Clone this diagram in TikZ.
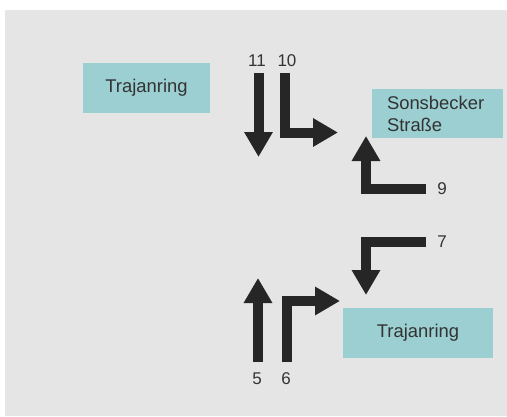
\documentclass[tikz,border=0pt]{standalone}
\usepackage{fontspec}
\setmainfont{Liberation Sans}
\usetikzlibrary{arrows.meta}
\definecolor{bggray}{HTML}{E5E5E5}
\definecolor{streetteal}{HTML}{9BCFD1}
\definecolor{lanegray}{HTML}{262626}
\definecolor{textgray}{HTML}{333333}

\begin{document}
\begin{tikzpicture}[
    x=1pt, y=-1pt,
    street/.style={rectangle, fill=streetteal, minimum height=50pt, inner sep=0pt, font=\fontsize{18.4}{22}\selectfont, text=textgray},
    lane/.style={draw=lanegray, line width=10pt, line cap=butt, line join=miter, -{Triangle[length=25pt, width=27pt]}},
    lanenum/.style={font=\fontsize{17}{20}\selectfont, text=textgray, inner sep=0pt}
]
    % Background
    \useasboundingbox (0,0) rectangle (507,416);
    \fill[bggray] (5,10) rectangle (507,416);

    % Street Nodes
    \node[street, minimum width=127pt] (trajanN) at (146.5,88) {Trajanring};
    \node[street, minimum width=131pt, minimum height=49pt, text width=101pt, inner xsep=15pt, align=left] (sonsbecker) at (437.5,113.5) {Sonsbecker\\Straße};
    \node[street, minimum width=150pt] (trajanS) at (418,333) {Trajanring};

    % Lane Coordinates
    \coordinate (a11) at (258.5,73);  \coordinate (b11) at (258.5,157);
    \coordinate (a10) at (285,73);    \coordinate (b10) at (338,132.5);
    \coordinate (a9)  at (426,188.5); \coordinate (b9)  at (366,136);
    \coordinate (a7)  at (426,242);   \coordinate (b7)  at (366,295);
    \coordinate (a5)  at (258,362);   \coordinate (b5)  at (258,278);
    \coordinate (a6)  at (287,362);   \coordinate (b6)  at (340,301);

    % Lane Arrows
    \draw[lane] (a11) -- (b11);
    \draw[lane] (a10) |- (b10);
    \draw[lane] (a9) -| (b9);
    \draw[lane] (a7) -| (b7);
    \draw[lane] (a5) -- (b5);
    \draw[lane] (a6) |- (b6);

    % Lane Numbers
    \node[lanenum] (n11) at (257,61) {11};
    \node[lanenum] (n10) at (287,61) {10};
    \node[lanenum] (n9) at (442,188.5) {9};
    \node[lanenum] (n7) at (442,241.5) {7};
    \node[lanenum] (n5) at (257,379) {5};
    \node[lanenum] (n6) at (286,379) {6};
\end{tikzpicture}
\end{document}
